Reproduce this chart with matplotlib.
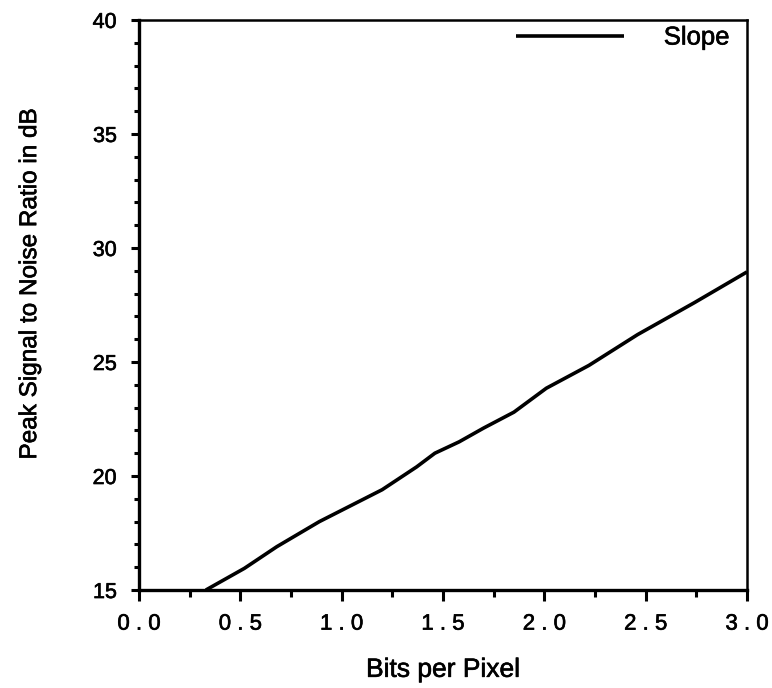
import matplotlib
matplotlib.use("Agg")
import matplotlib.pyplot as plt
import matplotlib.patheffects as pe
from matplotlib.ticker import MultipleLocator

bits = [0.33, 0.52, 0.68, 0.89, 1.20, 1.37, 1.46, 1.58, 1.70, 1.85, 2.01, 2.22, 2.46, 2.74, 3.0]
psnr = [15.0, 15.95, 16.9, 18.0, 19.4, 20.4, 21.0, 21.5, 22.1, 22.8, 23.85, 24.85, 26.2, 27.6, 28.95]
xticks = [0.0, 0.5, 1.0, 1.5, 2.0, 2.5, 3.0]
xticklabels = ["0.0", "0.5", "1.0", "1.5", "2.0", "2.5", "3.0"]
yticks = [15, 20, 25, 30, 35, 40]
yticklabels = ["15", "20", "25", "30", "35", "40"]

plt.rcParams['font.family'] = ['Liberation Sans', 'DejaVu Sans']

fig = plt.figure(figsize=(7.72, 6.88), dpi=100)
ax = fig.add_axes([0.180, 0.1424, 0.7876, 0.8286])

ax.plot(bits, psnr, color='black', lw=2.6, label='Slope', solid_capstyle='butt')
ax.set_xlim(0, 3)
ax.set_ylim(15, 40)

ax.xaxis.set_minor_locator(MultipleLocator(0.25))
ax.yaxis.set_minor_locator(MultipleLocator(1))
ax.tick_params(axis='x', which='major', direction='out', length=8, width=2.2, pad=9, labelsize=16)
ax.tick_params(axis='x', which='minor', direction='out', length=5, width=2.2)
ax.tick_params(axis='y', which='major', direction='out', length=6, width=2.2, pad=10, labelsize=15.5)
ax.tick_params(axis='y', which='minor', direction='out', length=3.8, width=2.2)
ax.tick_params(top=False, right=False, which='both')

ax.set_xticks(xticks)
ax.set_xticklabels([" ".join(s) for s in xticklabels], fontsize=16)
ax.set_yticks(yticks)
ax.set_yticklabels(yticklabels, fontsize=15.5)

for s in ['left', 'bottom']:
    ax.spines[s].set_linewidth(2.4)
for s in ['top', 'right']:
    ax.spines[s].set_linewidth(1.8)

ax.set_xlabel('Bits per Pixel', fontsize=19)
ax.xaxis.label.set_va('center')
ax.xaxis.set_label_coords(0.5, -0.140)
ax.set_ylabel('Peak Signal to Noise Ratio in dB', fontsize=17.5)
ax.yaxis.label.set_va('center')
ax.yaxis.set_label_coords(-0.179, 0.536)

leg = ax.legend(loc='upper right', bbox_to_anchor=(0.978, 0.997), frameon=False,
                fontsize=18.5, handlelength=4.2, handletextpad=1.55,
                borderpad=0, borderaxespad=0.15)
for h in leg.get_lines():
    h.set_linewidth(2.6)

thick = [pe.withStroke(linewidth=0.45, foreground='black')]
texts = (ax.get_xticklabels() + ax.get_yticklabels() +
         [ax.xaxis.label, ax.yaxis.label] + leg.get_texts())
for t in texts:
    t.set_path_effects(thick)

fig.savefig('out.png', dpi=100)
